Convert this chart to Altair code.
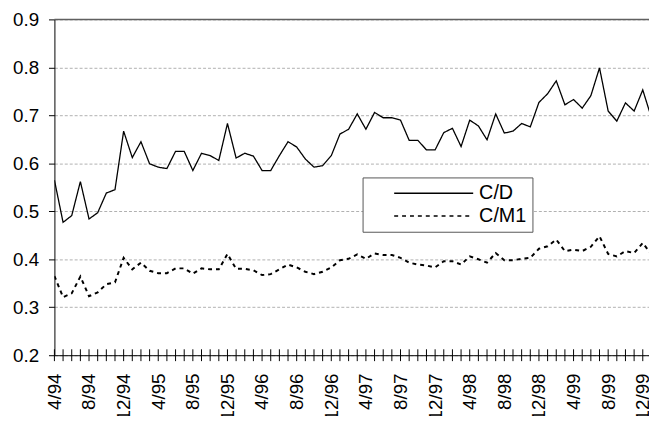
import altair as alt
import pandas as pd

FONT = "Liberation Sans"

# month labels 4/94 ... 1/00 (last point only partly visible at the right edge)
months = [f"{(3 + i) % 12 + 1}/{(94 + (3 + i) // 12) % 100:02d}" for i in range(70)]

cd = [0.565, 0.477, 0.491, 0.562, 0.484, 0.497, 0.538, 0.545, 0.667, 0.612, 0.645, 0.599,
      0.592, 0.589, 0.625, 0.625, 0.585, 0.621, 0.616, 0.606, 0.683, 0.611, 0.621, 0.615,
      0.585, 0.585, 0.616, 0.645, 0.634, 0.609, 0.592, 0.595, 0.616, 0.661, 0.671, 0.703,
      0.671, 0.706, 0.695, 0.695, 0.690, 0.648, 0.648, 0.628, 0.628, 0.664, 0.673, 0.635,
      0.690, 0.678, 0.649, 0.703, 0.663, 0.667, 0.683, 0.676, 0.727, 0.745, 0.772, 0.722,
      0.733, 0.715, 0.741, 0.799, 0.709, 0.688, 0.726, 0.709, 0.753, 0.695]

cm1 = [0.365, 0.321, 0.329, 0.364, 0.323, 0.331, 0.348, 0.352, 0.403, 0.379, 0.393, 0.376,
       0.371, 0.371, 0.381, 0.381, 0.370, 0.381, 0.379, 0.379, 0.411, 0.380, 0.380, 0.377,
       0.367, 0.369, 0.379, 0.389, 0.383, 0.374, 0.369, 0.374, 0.383, 0.398, 0.401, 0.410,
       0.401, 0.412, 0.409, 0.409, 0.403, 0.393, 0.389, 0.387, 0.383, 0.396, 0.396, 0.389,
       0.406, 0.400, 0.393, 0.413, 0.398, 0.398, 0.401, 0.403, 0.422, 0.427, 0.441, 0.417,
       0.420, 0.417, 0.426, 0.448, 0.411, 0.406, 0.417, 0.413, 0.434, 0.410]

series_names = ["C/D", "C/M1"]
y_ticks = [0.2, 0.3, 0.4, 0.5, 0.6, 0.7, 0.8, 0.9]

n = len(months)
idx = list(range(n))
df = pd.DataFrame({
    "idx": idx * 2,
    "month": months * 2,
    "value": cd + cm1,
    "series": [series_names[0]] * n + [series_names[1]] * n,
})

tick_vals = idx[:69]            # monthly ticks 4/94 .. 12/99
label_vals = tick_vals[::4]     # labelled every 4 months
label_arr = "[" + ",".join(f"'{months[i]}'" for i in label_vals) + "]"

x_scale = alt.Scale(domain=[0, 68.72], nice=False, zero=False)
y_scale = alt.Scale(domain=[0.2, 0.9], nice=False, zero=False)

x_axis = alt.Axis(values=label_vals, tickCount=100,
                  labelExpr=f"{label_arr}[round(datum.value / 4)]",
                  labelAngle=270, labelFontSize=19, labelFont=FONT, labelColor="black",
                  labelPadding=18, ticks=False, domainColor="black", grid=False,
                  labelOverlap=False, labelFlush=False, labelBound=False, title=None)
y_axis = alt.Axis(values=y_ticks, format=".1f", labelFontSize=19, labelFont=FONT,
                  labelColor="black", labelPadding=10, tickSize=6, tickColor="black",
                  domainColor="black", grid=True, gridColor="#b0b0b0", gridDash=[3, 2],
                  title=None)

dash_scale = alt.Scale(domain=series_names, range=[[1, 0], [4, 4]])
legend = alt.Legend(title=None, orient="none", legendX=312, legendY=160,
                    symbolType="stroke", symbolSize=6400, symbolStrokeWidth=1.5,
                    symbolStrokeColor="black", symbolOffset=25, labelOffset=5,
                    clipHeight=20,
                    labelFontSize=20, labelFont=FONT, labelColor="black",
                    padding=6, rowPadding=3, strokeColor="#555555", fillColor="white",
                    labelExpr="datum.label + '\u00a0\u00a0\u00a0\u00a0\u00a0\u00a0'")

base = alt.Chart(df)

line_cd = base.transform_filter(alt.datum.series == series_names[0]).mark_line(
    color="black", strokeWidth=1.3, clip=True
).encode(
    x=alt.X("idx:Q", scale=x_scale, axis=x_axis),
    y=alt.Y("value:Q", scale=y_scale, axis=y_axis),
    strokeDash=alt.StrokeDash("series:N", scale=dash_scale, legend=legend),
)

line_cm1 = base.transform_filter(alt.datum.series == series_names[1]).mark_line(
    color="black", strokeWidth=2, clip=True
).encode(
    x=alt.X("idx:Q", scale=x_scale, title=None),
    y=alt.Y("value:Q", scale=y_scale, title=None),
    strokeDash=alt.StrokeDash("series:N", scale=dash_scale, legend=legend),
)

top_rule = alt.Chart(pd.DataFrame({"value": [0.9]})).mark_rule(
    color="#606060", strokeWidth=1.5
).encode(y=alt.Y("value:Q", scale=y_scale, title=None))

# monthly tick marks crossing the category axis
ticks = alt.Chart(pd.DataFrame({"idx": tick_vals})).mark_rule(
    color="black", strokeWidth=1
).encode(
    x=alt.X("idx:Q", scale=x_scale, title=None),
    y=alt.value(334),
    y2=alt.value(346),
)

chart = alt.layer(line_cd, top_rule, ticks, line_cm1).properties(
    width=602, height=340, autosize=alt.AutoSizeParams(type="none"),
    padding={"left": 47, "top": 9, "right": 0, "bottom": 59},
    background="white",
).configure_view(strokeWidth=0).configure_axisX(labelOverlap=False)

chart.save("out.html", embed_options={"renderer": "svg", "actions": False})
